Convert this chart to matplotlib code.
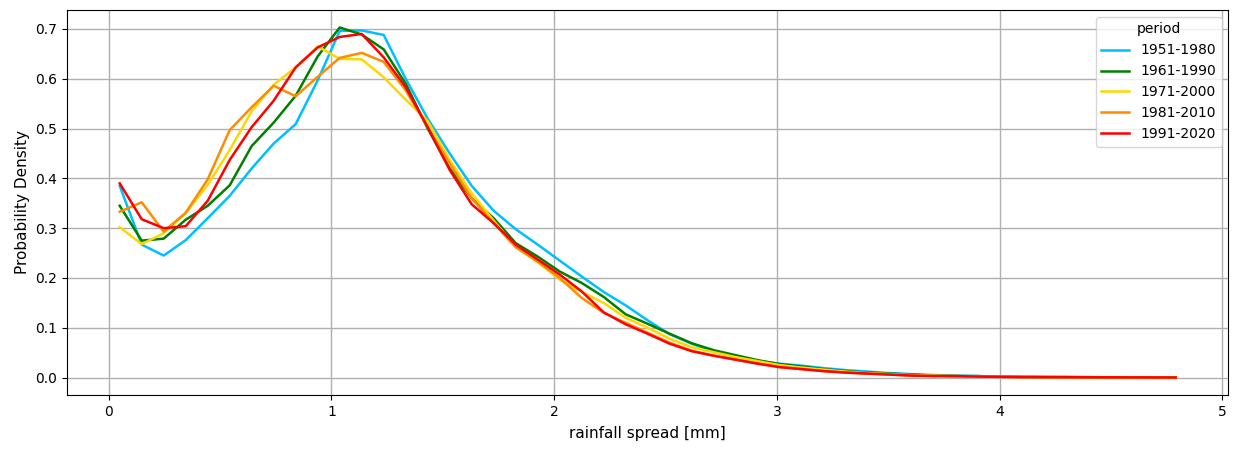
import numpy as np
import matplotlib
matplotlib.use("Agg")
import matplotlib.pyplot as plt

# histogram bin edges of rainfall spread [mm]; curves are drawn at bin centres
bin_edges = np.linspace(0, 4.84, 50)
centres = (bin_edges[:-1] + bin_edges[1:]) / 2

periods = ["1951-1980", "1961-1990", "1971-2000", "1981-2010", "1991-2020"]
colors = ["deepskyblue", "green", "gold", "darkorange", "red"]

dens_1951_1980 = [
    0.385, 0.267, 0.245, 0.276, 0.32, 0.365, 0.42, 0.47, 0.509, 0.597,
    0.696, 0.697, 0.688, 0.60, 0.52, 0.45, 0.385, 0.335, 0.298, 0.267,
    0.235, 0.203, 0.172, 0.145, 0.115, 0.087, 0.068, 0.052, 0.041, 0.033,
    0.028, 0.024, 0.019, 0.015, 0.012, 0.009, 0.007, 0.005, 0.004, 0.003,
    0.002, 0.0015, 0.001, 0.001, 0.0008, 0.0006, 0.0004, 0.0003, 0.0002,
]
dens_1961_1990 = [
    0.345, 0.275, 0.279, 0.317, 0.345, 0.386, 0.465, 0.512, 0.566, 0.645,
    0.703, 0.689, 0.659, 0.59, 0.50, 0.42, 0.36, 0.32, 0.27, 0.243,
    0.213, 0.19, 0.162, 0.127, 0.108, 0.088, 0.069, 0.055, 0.045, 0.035,
    0.027, 0.022, 0.017, 0.013, 0.01, 0.008, 0.006, 0.004, 0.003, 0.003,
    0.002, 0.0015, 0.001, 0.001, 0.0008, 0.0006, 0.0004, 0.0003, 0.0002,
]
dens_1971_2000 = [
    0.302, 0.268, 0.29, 0.33, 0.387, 0.457, 0.535, 0.588, 0.623, 0.665,
    0.64, 0.639, 0.603, 0.558, 0.515, 0.437, 0.37, 0.315, 0.262, 0.232,
    0.197, 0.172, 0.15, 0.12, 0.1, 0.078, 0.061, 0.051, 0.041, 0.033,
    0.025, 0.02, 0.016, 0.012, 0.009, 0.007, 0.005, 0.004, 0.003, 0.002,
    0.002, 0.0015, 0.001, 0.001, 0.0008, 0.0006, 0.0004, 0.0003, 0.0002,
]
dens_1981_2010 = [
    0.333, 0.352, 0.293, 0.331, 0.398, 0.497, 0.543, 0.586, 0.565, 0.604,
    0.642, 0.652, 0.634, 0.577, 0.503, 0.43, 0.36, 0.31, 0.262, 0.233,
    0.2, 0.16, 0.13, 0.11, 0.09, 0.07, 0.054, 0.044, 0.036, 0.028,
    0.021, 0.017, 0.013, 0.01, 0.008, 0.006, 0.004, 0.003, 0.003, 0.002,
    0.0015, 0.001, 0.001, 0.0008, 0.0006, 0.0005, 0.0004, 0.0003, 0.0002,
]
dens_1991_2020 = [
    0.39, 0.318, 0.3, 0.304, 0.355, 0.437, 0.503, 0.556, 0.623, 0.663,
    0.684, 0.69, 0.643, 0.583, 0.503, 0.417, 0.348, 0.31, 0.267, 0.237,
    0.207, 0.173, 0.131, 0.107, 0.088, 0.068, 0.053, 0.044, 0.036, 0.028,
    0.021, 0.017, 0.013, 0.01, 0.008, 0.006, 0.004, 0.003, 0.003, 0.002,
    0.0015, 0.001, 0.001, 0.0008, 0.0006, 0.0005, 0.0004, 0.0003, 0.0002,
]
all_dens = [dens_1951_1980, dens_1961_1990, dens_1971_2000, dens_1981_2010, dens_1991_2020]

fig, ax = plt.subplots(figsize=(12.39, 4.54), dpi=100)
fig.subplots_adjust(left=0.054, right=0.9915, top=0.978, bottom=0.13)

for label, color, dens in zip(periods, colors, all_dens):
    ax.plot(centres, dens, color=color, linewidth=1.8, label=label)

ax.set_xlabel('rainfall spread [mm]', fontsize=11, labelpad=5)
ax.set_ylabel('Probability Density', fontsize=11)
ax.grid(True, color='#b0b0b0', linewidth=1)
ax.legend(title='period', loc='upper right')

fig.savefig('out.png')
